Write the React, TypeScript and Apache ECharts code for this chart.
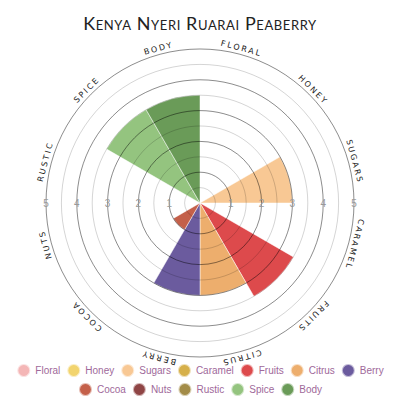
import React, { useEffect, useRef } from 'react';
import * as echarts from 'echarts';

const chartTitle = 'Kenya Nyeri Ruarai Peaberry';
const categories = ['Floral', 'Honey', 'Sugars', 'Caramel', 'Fruits', 'Citrus', 'Berry', 'Cocoa', 'Nuts', 'Rustic', 'Spice', 'Body'];
const values = [0, 0, 3, 0, 3.5, 3, 3, 1, 0, 0, 3.5, 3.5];
const colors = ['#f4b6b6', '#f2d46e', '#f8c894', '#d6b04a', '#dd4a4c', '#edae6d', '#6b5b9e', '#c4604a', '#8f4545', '#a38c48', '#94c47f', '#6a9b58'];
const radiusTicks = [1, 2, 3, 4, 5];
const legendRowSizes = [7, 5];

const CX = 200;
const CY = 203;
const R = 154;
const LABEL_R = 160;

export default function App() {
  const ref = useRef<HTMLDivElement>(null);
  useEffect(() => {
    if (!ref.current) return;
    const chart = echarts.init(ref.current, null, { renderer: 'svg' });
    const n = categories.length;
    const step = 360 / n;

    const angleLabels = categories.map((c, i) => {
      const a = ((i + 0.5) * step * Math.PI) / 180;
      return {
        type: 'text',
        x: CX + LABEL_R * Math.sin(a),
        y: CY - LABEL_R * Math.cos(a),
        rotation: -a,
        z: 20,
        style: {
          text: c.toUpperCase(),
          align: 'center',
          verticalAlign: 'middle',
          fontSize: 8,
          fontFamily: 'DejaVu Sans; letter-spacing: 2px',
          fill: '#222',
        },
      };
    });

    const radiusLabelAxis = (polarIndex: number) => ({
      polarIndex,
      type: 'value',
      min: 0,
      max: 5,
      interval: 1,
      z: 10,
      axisLine: { show: false },
      axisTick: { show: false },
      splitLine: { show: false },
      axisLabel: {
        margin: 0,
        align: 'center',
        verticalAlign: 'middle',
        color: '#999',
        fontSize: 10,
        fontFamily: 'Liberation Sans',
        formatter: (v: number) => (radiusTicks.includes(v) ? String(v) : ''),
      },
    });

    let start = 0;
    const legends = legendRowSizes.map((size, row) => {
      const data = categories.slice(start, start + size);
      start += size;
      return {
        data,
        top: 363 + row * 19,
        left: 'center',
        width: 400,
        padding: 0,
        icon: 'circle',
        itemWidth: 13,
        itemHeight: 13,
        itemGap: 6,
        selectedMode: false,
        textStyle: { color: '#a0699a', fontSize: 10, fontFamily: 'Liberation Sans' },
      };
    });

    chart.setOption({
      animation: false,
      backgroundColor: '#fff',
      polar: [0, 1, 2].map(() => ({ center: [CX, CY], radius: R })),
      angleAxis: [
        {
          polarIndex: 0,
          type: 'category',
          data: categories,
          startAngle: 90,
          boundaryGap: true,
          axisLine: { show: false },
          axisTick: { show: false },
          axisLabel: { show: false },
          splitLine: { show: false },
        },
        { polarIndex: 1, type: 'value', startAngle: 0, min: 0, max: 360, show: false },
        { polarIndex: 2, type: 'value', startAngle: 180, min: 0, max: 360, show: false },
      ],
      radiusAxis: [
        {
          polarIndex: 0,
          type: 'value',
          min: 0,
          max: 5,
          interval: 0.5,
          z: 10,
          axisLine: { show: false },
          axisTick: { show: false },
          axisLabel: { show: false },
          splitLine: {
            show: true,
            lineStyle: { color: ['rgba(0,0,0,0.45)', 'rgba(0,0,0,0.17)'], width: 1 },
          },
        },
        radiusLabelAxis(1),
        radiusLabelAxis(2),
      ],
      legend: legends,
      graphic: [
        {
          type: 'text',
          x: CX,
          y: 23,
          style: {
            text: chartTitle,
            align: 'center',
            verticalAlign: 'middle',
            fontSize: 18,
            fontFamily: 'Lato; font-variant: small-caps; letter-spacing: 0.6px',
            fill: '#222',
          },
        },
        ...angleLabels,
      ],
      series: categories.map((name, i) => ({
        type: 'bar',
        name,
        coordinateSystem: 'polar',
        polarIndex: 0,
        stack: 'flavor',
        barCategoryGap: '0%',
        silent: true,
        data: categories.map((_, j) => (j === i ? values[i] : '-')),
        itemStyle: { color: colors[i], borderColor: 'rgba(255,255,255,0.6)', borderWidth: 0.8 },
      })),
    });
    return () => chart.dispose();
  }, []);
  return <div ref={ref} style={{ position: 'fixed', left: 0, top: 0, width: 400, height: 400 }} />;
}
